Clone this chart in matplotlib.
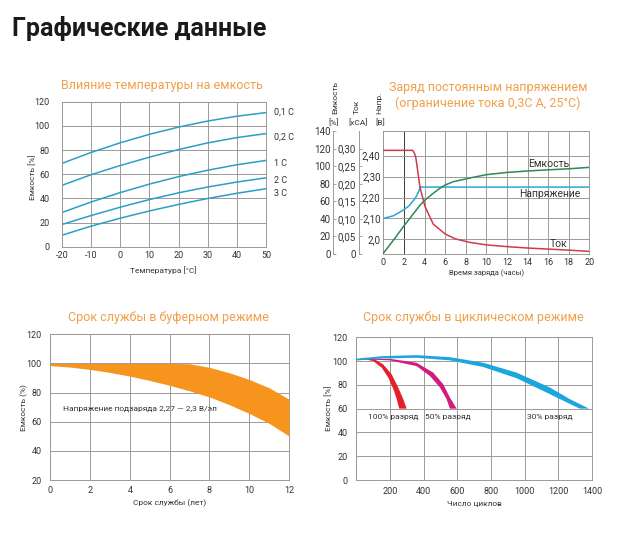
import matplotlib
matplotlib.use("Agg")
import matplotlib.pyplot as plt

plt.rcParams['font.family'] = ['Roboto', 'DejaVu Sans']
plt.rcParams['axes.unicode_minus'] = False

W, H = 621, 540
fig = plt.figure(figsize=(W / 100, H / 100), dpi=100)

ORANGE_T = '#F0A04A'
GRID = '#9a9a9a'
TXT = '#333333'

# ---------------- data ----------------
# Panel 1: temperature influence on capacity
temps = [-20, -10, 0, 10, 20, 30, 40, 50]
cap_01C = [69, 78, 86, 93, 99, 104, 108, 111]
cap_02C = [50.8, 59.6, 67.2, 74.1, 80.4, 85.9, 90.3, 93.6]
cap_1C = [28.3, 37, 44.8, 51.8, 58, 63.3, 67.8, 71.4]
cap_2C = [18.4, 25.8, 32.7, 39, 44.6, 49.4, 53.5, 57]
cap_3C = [9.5, 17, 23.6, 29.6, 35, 39.9, 44.2, 48]
rate_labels = ['0,1 C', '0,2 C', '1 C', '2 C', '3 C']
rate_label_y = [111, 91, 69, 55, 44]

# Panel 2: constant voltage charge
cur_t = [0, 2.85, 3.0, 3.14, 3.24, 3.56, 4.05, 4.85, 6.0, 7.0, 8.4, 10, 12, 14, 16, 18, 20]
cur_v = [0.295, 0.295, 0.288, 0.277, 0.258, 0.19, 0.135, 0.085, 0.057, 0.043, 0.033, 0.026,
         0.021, 0.017, 0.014, 0.011, 0.0075]
volt_t = [0, 1, 1.94, 2.5, 3.0, 3.2, 3.4, 3.6, 20]
volt_v = [2.10, 2.113, 2.14, 2.16, 2.19, 2.205, 2.225, 2.25, 2.25]
capch_t = [0, 1, 1.94, 3, 3.56, 4, 5, 5.5, 6, 6.8, 8.4, 10, 12, 14, 16, 18, 20]
capch_v = [0.8, 16, 31, 47, 55.5, 61, 70.5, 74.8, 78.5, 82.3, 86.5, 90.3, 92.8, 94.5, 95.8, 97, 98.6]

# Panel 3: float service life band
years = [0, 1, 2, 3, 4, 5, 6, 7, 8, 9, 10, 11, 12]
float_upper = [100, 100, 100, 100, 100, 100, 100, 99.8, 97.3, 93.6, 89, 83.3, 75.5]
float_lower = [98.5, 97.5, 95.9, 93.8, 91.3, 88.3, 85, 81.2, 77, 71.7, 65.7, 58.9, 50.2]

# Panel 4: cyclic service life bands (outer edge, inner edge)
red_out_x = [0, 52, 101, 160, 210, 249, 279, 299]
red_out_y = [101.4, 102.8, 102.2, 97.2, 88.9, 77.8, 68, 60]
red_in_x = [0, 52, 101, 151, 190, 220, 240, 255]
red_in_y = [101.0, 101.4, 100, 94.4, 86.1, 76.4, 68, 60]

mag_out_x = [40, 71, 200, 358, 457, 516, 556, 596]
mag_out_y = [101.5, 101.6, 101.9, 98.6, 90.3, 80.6, 69.4, 60]
mag_in_x = [40, 71, 200, 358, 437, 497, 536, 556]
mag_in_y = [101.3, 101.3, 100.6, 95.8, 87.5, 77.8, 68.1, 60]

blue_out_x = [0, 160, 358, 556, 754, 952, 1150, 1268, 1383]
blue_out_y = [102.0, 104.2, 105, 103.3, 98.6, 90.3, 77.8, 68, 60]
blue_in_x = [0, 160, 358, 556, 754, 952, 1150, 1249, 1328]
blue_in_y = [100.5, 102.2, 102.8, 100.6, 95, 85.6, 72.2, 65.3, 60]

cyc_labels = ['100% разряд', '50% разряд', '30% разряд']
cyc_label_x = [218, 544, 1150]


def fx(px):
    return px / W


def fy(py):
    return 1 - py / H


def axes_px(l, t, r, b):
    return fig.add_axes([fx(l), fy(b), (r - l) / W, (b - t) / H])


def style_box(ax):
    for s in ax.spines.values():
        s.set_color(GRID)
        s.set_linewidth(0.7)
    ax.grid(True, color=GRID, linewidth=0.7)
    ax.set_axisbelow(True)
    ax.tick_params(length=0, labelsize=6.5, labelcolor=TXT, pad=6)


# main title
fig.text(fx(12), fy(36), 'Графические данные', fontsize=18, fontweight='bold',
         color='#1a1a1a', ha='left', va='baseline')

# ---------------- Panel 1 ----------------
ax1 = axes_px(62, 101.7, 266, 246.7)
style_box(ax1)
for ys in [cap_01C, cap_02C, cap_1C, cap_2C, cap_3C]:
    ax1.plot(temps, ys, color='#2B9FC6', lw=1.1)
ax1.set_xlim(-20, 50)
ax1.set_ylim(0, 120)
ax1.set_xticks(range(-20, 51, 10))
ax1.set_yticks(range(0, 121, 20))
ax1.tick_params(axis='y', pad=9)
ax1.tick_params(axis='x', pad=3)
for lab, yv in zip(rate_labels, rate_label_y):
    ax1.text(52.8, yv, lab, fontsize=6.5, color=TXT, va='center', ha='left', clip_on=False)
fig.text(fx(162), fy(85), 'Влияние температуры на емкость', fontsize=9,
         color=ORANGE_T, ha='center', va='center')
fig.text(fx(163), fy(270.5), 'Температура [°C]', fontsize=6, color=TXT, ha='center', va='center')
fig.text(fx(32), fy(177), 'Емкость [%]', fontsize=6, color=TXT, ha='center', va='center',
         rotation=90)

# ---------------- Panel 2 ----------------
ax2 = axes_px(383.3, 131, 589.3, 254)
for s in ax2.spines.values():
    s.set_color(GRID)
    s.set_linewidth(0.7)
ax2.set_xlim(0, 20)
ax2.set_ylim(1.93, 2.518)
ax2.set_xticks(range(0, 21, 2))
ax2.set_yticks([2.0, 2.1, 2.2, 2.3, 2.4])
ax2.set_yticklabels(['2,0', '2,10', '2,20', '2,30', '2,40'])
ax2.grid(True, color=GRID, linewidth=0.7)
ax2.set_axisbelow(True)
ax2.tick_params(length=0, labelsize=7, labelcolor=TXT, pad=2)
ax2.tick_params(axis='x', pad=3, labelsize=6.5)
for gl, xv in zip(ax2.get_xgridlines(), range(0, 21, 2)):
    if xv == 2:
        gl.set_color('#3a3a3a')

axi = ax2.twinx()
axc = ax2.twinx()
for a, off in [(axi, 17.5), (axc, 36)]:
    for name, s in a.spines.items():
        s.set_visible(False)
    a.spines['left'].set_visible(True)
    a.spines['left'].set_position(('outward', off))
    a.spines['left'].set_color(GRID)
    a.spines['left'].set_linewidth(0.7)
    a.yaxis.set_ticks_position('left')
    a.yaxis.set_label_position('left')
    a.tick_params(axis='y', direction='in', length=2.5, width=0.6, color=GRID,
                  labelsize=7, labelcolor=TXT, pad=2)
axc.set_ylim(0, 140)
axc.set_yticks(range(0, 141, 20))
axi.set_ylim(0, 0.35)
axi.set_yticks([0, 0.05, 0.10, 0.15, 0.20, 0.25, 0.30])
axi.set_yticklabels(['0', '0,05', '0,10', '0,15', '0,20', '0,25', '0,30'])

axi.plot(cur_t, cur_v, color='#D03A4A', lw=1.1)
ax2.plot(volt_t, volt_v, color='#2DA5D3', lw=1.1)
axc.plot(capch_t, capch_v, color='#2E8A55', lw=1.1)

ax2.text(14.05, 2.36, 'Емкость', fontsize=7.5, color=TXT, ha='left', va='center')
ax2.text(16.2, 2.217, 'Напряжение', fontsize=7.5, color=TXT, ha='center', va='center')
ax2.text(17.0, 1.978, 'Ток', fontsize=7.5, color=TXT, ha='center', va='center')

fig.text(fx(488), fy(87), 'Заряд постоянным напряжением', fontsize=9, color=ORANGE_T,
         ha='center', va='center')
fig.text(fx(488), fy(103), '(ограничение тока 0,3С А, 25°С)', fontsize=9, color=ORANGE_T,
         ha='center', va='center')
fig.text(fx(487), fy(273), 'Время заряда (часы)', fontsize=5.5, color=TXT, ha='center', va='center')
for xp, top in [(335, 'Емкость'), (356.5, 'Ток'), (379, 'Напр.')]:
    fig.text(fx(xp), fy(113.5), top, fontsize=6, color=TXT, rotation=90, ha='center', va='bottom')
for xp, bot in [(333.3, '[%]'), (358.3, '[xCA]'), (380.7, '[B]')]:
    fig.text(fx(xp), fy(122.7), bot, fontsize=6, color=TXT, ha='center', va='center')

# ---------------- Panel 3 ----------------
ax3 = axes_px(50.3, 334.3, 289, 480)
style_box(ax3)
ax3.fill_between(years, float_lower, float_upper, color='#F7941E', lw=0, zorder=3)
ax3.set_xlim(0, 12)
ax3.set_ylim(20, 120)
ax3.set_xticks(range(0, 13, 2))
ax3.set_yticks(range(20, 121, 20))
ax3.tick_params(axis='x', pad=4)
ax3.text(0.62, 69, 'Напряжение подзаряда 2,27 — 2,3 В/эл', fontsize=6, color=TXT,
         ha='left', va='center')
fig.text(fx(168), fy(317), 'Срок службы в буферном режиме', fontsize=9, color=ORANGE_T,
         ha='center', va='center')
fig.text(fx(170), fy(503), 'Срок службы (лет)', fontsize=6, color=TXT, ha='center', va='center')
fig.text(fx(24), fy(408), 'Емкость (%)', fontsize=6, color=TXT, ha='center', va='center',
         rotation=90)

# ---------------- Panel 4 ----------------
ax4 = axes_px(356.3, 337.3, 592, 480)
style_box(ax4)
for ox, oy, ix, iy, col in [(red_out_x, red_out_y, red_in_x, red_in_y, '#E5202B'),
                            (mag_out_x, mag_out_y, mag_in_x, mag_in_y, '#D4197F'),
                            (blue_out_x, blue_out_y, blue_in_x, blue_in_y, '#1CA6DE')]:
    ax4.fill(list(ox) + list(ix)[::-1], list(oy) + list(iy)[::-1], color=col, lw=0, zorder=3)
ax4.set_xlim(0, 1400)
ax4.set_ylim(0, 120)
ax4.set_xticks(range(0, 1401, 200))
ax4.set_xticklabels([''] + [str(v) for v in range(200, 1401, 200)])
ax4.set_yticks(range(0, 121, 20))
ax4.tick_params(axis='x', pad=5)
for lab, xv in zip(cyc_labels, cyc_label_x):
    ax4.text(xv, 53.3, lab, fontsize=6, color=TXT, ha='center', va='center')
fig.text(fx(473), fy(317), 'Срок службы в циклическом режиме', fontsize=9, color=ORANGE_T,
         ha='center', va='center')
fig.text(fx(474), fy(504), 'Число циклов', fontsize=6, color=TXT, ha='center', va='center')
fig.text(fx(328), fy(408), 'Емкость [%]', fontsize=6, color=TXT, ha='center', va='center',
         rotation=90)

fig.savefig('out.png', dpi=100)
